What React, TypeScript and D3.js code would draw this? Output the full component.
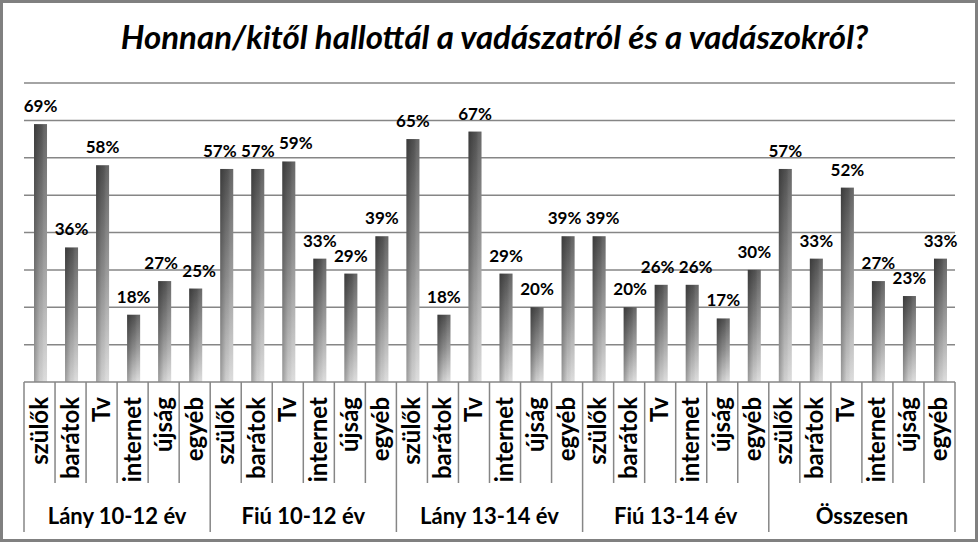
import React from "react";
import * as d3 from "d3";

const title = "Honnan/kitől hallottál a vadászatról és a vadászokról?";
const groups = ["Lány 10-12 év", "Fiú 10-12 év", "Lány 13-14 év", "Fiú 13-14 év", "Összesen"];
const sources = ["szülők", "barátok", "Tv", "internet", "újság", "egyéb"];
const lany1012 = [69, 36, 58, 18, 27, 25];
const fiu1012 = [57, 57, 59, 33, 29, 39];
const lany1314 = [65, 18, 67, 29, 20, 39];
const fiu1314 = [39, 20, 26, 26, 17, 30];
const osszesen = [57, 33, 52, 27, 23, 33];
const yTicks = [0, 10, 20, 30, 40, 50, 60, 70, 80];

const W = 978;
const H = 542;
const FONT = "Lato, Carlito, Calibri, sans-serif";

export default function App() {
  const series = [lany1012, fiu1012, lany1314, fiu1314, osszesen];
  const items = series.flatMap((vals, gi) =>
    vals.map((v, si) => ({ key: `${gi}-${si}`, group: groups[gi], source: sources[si], value: v, gi, si }))
  );
  const left = 24;
  const right = 955;
  const base = 382;
  const top = 83;
  const x = d3
    .scaleBand<string>()
    .domain(items.map((d) => d.key))
    .range([left, right])
    .paddingInner(0)
    .paddingOuter(0);
  const y = d3.scaleLinear().domain([0, 80]).range([base, top]);
  const bw = x.bandwidth();
  const barW = 13;

  // label placement with simple horizontal collision avoidance
  const labelW = 36;
  const labelH = 14;
  const gap = 2;
  const labels = items.map((d) => {
    const cx = (x(d.key) as number) + bw / 2 + 1;
    return { cx, lx: cx, ly: y(d.value) - 12 };
  });
  for (let pass = 0; pass < 30; pass++) {
    for (let i = 0; i < labels.length - 1; i++) {
      const a = labels[i];
      const b = labels[i + 1];
      if (Math.abs(a.ly - b.ly) < labelH) {
        const ov = labelW + gap - (b.lx - a.lx);
        if (ov > 0) {
          a.lx -= ov / 2;
          b.lx += ov / 2;
        }
      }
    }
  }

  return (
    <svg width={W} height={H} style={{ position: "absolute", left: 0, top: 0 }}>
      <defs>
        <linearGradient id="gv" x1="0" y1="0" x2="0" y2="1">
          <stop offset="0" stopColor="#505050" />
          <stop offset="0.5" stopColor="#8e8e8e" />
          <stop offset="1" stopColor="#d8d8d8" />
        </linearGradient>
        <linearGradient id="gh" x1="0" y1="0" x2="1" y2="0">
          <stop offset="0" stopColor="#000" stopOpacity="0.28" />
          <stop offset="0.45" stopColor="#000" stopOpacity="0.04" />
          <stop offset="0.75" stopColor="#fff" stopOpacity="0.1" />
          <stop offset="1" stopColor="#fff" stopOpacity="0.15" />
        </linearGradient>
      </defs>
      <rect x={0} y={0} width={W} height={H} fill="#fff" />
      <rect x={1.5} y={1.5} width={W - 3} height={H - 3} fill="none" stroke="#808080" strokeWidth={3} />
      <text
        x={(left + right) / 2 + 5}
        y={49}
        textAnchor="middle"
        fontFamily={FONT}
        fontWeight="bold"
        fontStyle="italic"
        fontSize={33}
        fill="#000"
      >
        {title}
      </text>
      {yTicks.slice(1).map((t) => (
        <line key={t} x1={left} x2={right} y1={y(t)} y2={y(t)} stroke="#868686" strokeWidth={1.5} />
      ))}
      {items.map((d, i) => {
        const { cx, lx, ly } = labels[i];
        const yt = y(d.value);
        return (
          <g key={d.key}>
            <rect x={cx - barW / 2} y={yt} width={barW} height={base - yt} fill="url(#gv)" />
            <rect x={cx - barW / 2} y={yt} width={barW} height={base - yt} fill="url(#gh)" />
            <text
              x={lx}
              y={ly}
              textAnchor="middle"
              fontFamily={FONT}
              fontWeight="bold"
              fontSize={17}
              fill="#000"
            >
              {d.value}%
            </text>
            <text
              transform={`translate(${cx + 7},${base + 15}) rotate(-90)`}
              textAnchor="end"
              fontFamily={FONT}
              fontWeight="bold"
              fontSize={24}
              fill="#000"
            >
              {d.source}
            </text>
          </g>
        );
      })}
      <line x1={left} x2={right} y1={base} y2={base} stroke="#868686" strokeWidth={1.5} />
      {d3.range(items.length + 1).map((i) => {
        const xx = i < items.length ? (x(items[i].key) as number) : right;
        const isGroup = i % sources.length === 0;
        return (
          <line
            key={i}
            x1={xx}
            x2={xx}
            y1={base}
            y2={isGroup ? 532 : 483}
            stroke="#868686"
            strokeWidth={1.5}
          />
        );
      })}
      {groups.map((g, gi) => {
        const x0 = x(`${gi}-0`) as number;
        const cx = x0 + (bw * sources.length) / 2;
        return (
          <text
            key={g}
            x={cx}
            y={524}
            textAnchor="middle"
            fontFamily={FONT}
            fontWeight="bold"
            fontSize={22}
            fill="#000"
          >
            {g}
          </text>
        );
      })}
    </svg>
  );
}
